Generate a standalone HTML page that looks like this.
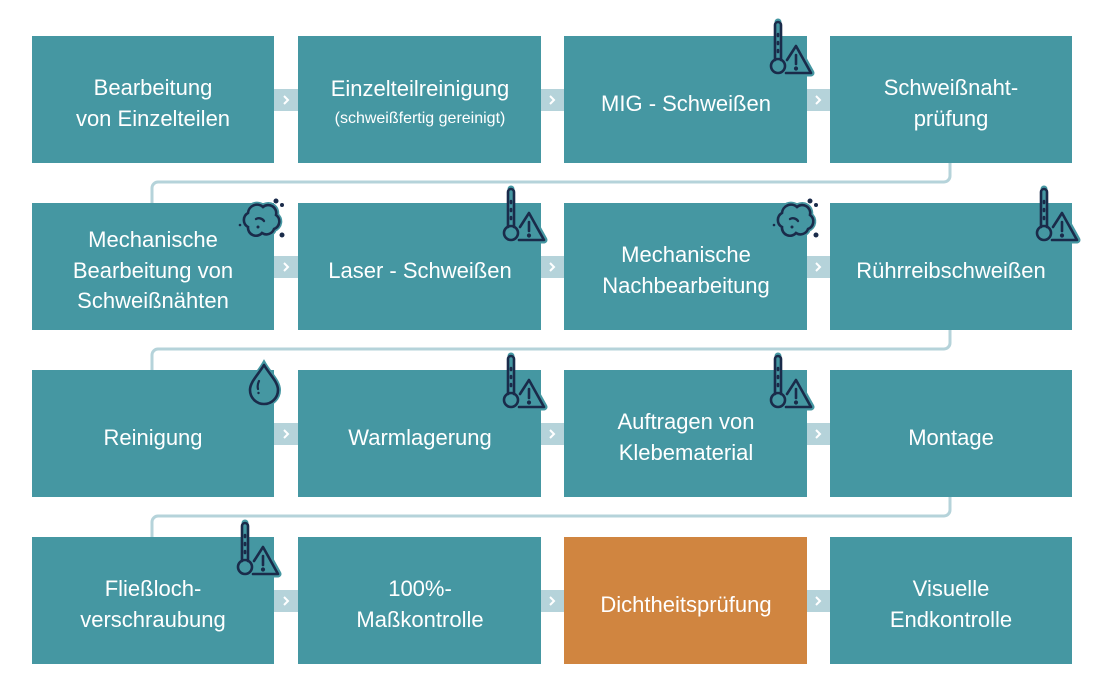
<!DOCTYPE html>
<html><head><meta charset="utf-8"><style>
body{margin:0;background:#fff;width:1110px;height:694px;overflow:hidden}
svg text{font-family:"Liberation Sans",sans-serif;font-size:22px;fill:#fff;text-anchor:middle}
</style></head><body>
<svg width="1110" height="694" viewBox="0 0 1110 694" xmlns="http://www.w3.org/2000/svg">
<defs>
<g id="therm">
 <g fill="none" stroke="#4597a2" stroke-width="7" stroke-linecap="round" stroke-linejoin="round">
  <path d="M0 -36 V0"/><circle cx="0" cy="8" r="7"/><path d="M18 -12 L33 15 H4 Z"/>
 </g>
 <g fill="none" stroke="#1a2b4a" stroke-width="2.6" stroke-linecap="round" stroke-linejoin="round">
  <path d="M-3 2 V-33 a3 3 0 0 1 6 0 V2"/><circle cx="0" cy="8" r="7"/>
  <path d="M9 2 L18 -12 L33 15 H8"/><path d="M18 -3 V6"/><circle cx="18" cy="10.5" r="0.8" fill="#1a2b4a"/>
  <path d="M0 -24 v2 M0 -16 v2 M0 -8 v2"/>
 </g>
</g>
<g id="cloud">
 <path d="M-14 6 a8 8 0 0 1 0 -14 a9 9 0 0 1 15 -6 a8 8 0 0 1 13 8 a8 8 0 0 1 -2 14 a8 8 0 0 1 -12 4 a8 8 0 0 1 -14 -6 Z" fill="#4597a2" stroke="#4597a2" stroke-width="6"/>
 <path d="M-14 6 a8 8 0 0 1 0 -14 a9 9 0 0 1 15 -6 a8 8 0 0 1 13 8 a8 8 0 0 1 -2 14 a8 8 0 0 1 -12 4 a8 8 0 0 1 -14 -6 Z" fill="none" stroke="#1a2b4a" stroke-width="2.6"/>
 <path d="M-6 -2 a6 6 0 0 1 8 2" fill="none" stroke="#1a2b4a" stroke-width="2.4" stroke-linecap="round"/>
 <circle cx="-4" cy="6" r="1.5" fill="#1a2b4a"/>
 <circle cx="14" cy="-20" r="2.5" fill="#1a2b4a"/><circle cx="20" cy="-16" r="2" fill="#1a2b4a"/><circle cx="20" cy="14" r="2.5" fill="#1a2b4a"/><circle cx="-22" cy="4" r="1.3" fill="#1a2b4a"/>
</g>
</defs>
<g fill="none" stroke="#b5d3da" stroke-width="3">
 <path d="M950 163 V176 a6 6 0 0 1 -6 6 H158 a6 6 0 0 0 -6 6 V203"/>
 <path d="M950 330 V343 a6 6 0 0 1 -6 6 H158 a6 6 0 0 0 -6 6 V370"/>
 <path d="M950 497 V510 a6 6 0 0 1 -6 6 H158 a6 6 0 0 0 -6 6 V537"/>
</g>
<g fill="#b5d3da">
 <rect x="274" y="89" width="24" height="22"/><rect x="541" y="89" width="23" height="22"/><rect x="807" y="89" width="23" height="22"/>
 <rect x="274" y="256" width="24" height="22"/><rect x="541" y="256" width="23" height="22"/><rect x="807" y="256" width="23" height="22"/>
 <rect x="274" y="423" width="24" height="22"/><rect x="541" y="423" width="23" height="22"/><rect x="807" y="423" width="23" height="22"/>
 <rect x="274" y="590" width="24" height="22"/><rect x="541" y="590" width="23" height="22"/><rect x="807" y="590" width="23" height="22"/>
</g>
<g fill="none" stroke="#fff" stroke-width="2">
 <path d="M284 96 l4 4 -4 4 M550 96 l4 4 -4 4 M816 96 l4 4 -4 4"/>
 <path d="M284 263 l4 4 -4 4 M550 263 l4 4 -4 4 M816 263 l4 4 -4 4"/>
 <path d="M284 430 l4 4 -4 4 M550 430 l4 4 -4 4 M816 430 l4 4 -4 4"/>
 <path d="M284 597 l4 4 -4 4 M550 597 l4 4 -4 4 M816 597 l4 4 -4 4"/>
</g>
<g fill="#4597a2">
 <rect x="32" y="36" width="242" height="127"/><rect x="298" y="36" width="243" height="127"/><rect x="564" y="36" width="243" height="127"/><rect x="830" y="36" width="242" height="127"/>
 <rect x="32" y="203" width="242" height="127"/><rect x="298" y="203" width="243" height="127"/><rect x="564" y="203" width="243" height="127"/><rect x="830" y="203" width="242" height="127"/>
 <rect x="32" y="370" width="242" height="127"/><rect x="298" y="370" width="243" height="127"/><rect x="564" y="370" width="243" height="127"/><rect x="830" y="370" width="242" height="127"/>
 <rect x="32" y="537" width="242" height="127"/><rect x="298" y="537" width="243" height="127"/><rect x="830" y="537" width="242" height="127"/>
</g>
<rect x="564" y="537" width="243" height="127" fill="#d08540"/>
<use href="#therm" x="778" y="58"/>
<use href="#therm" x="511" y="225"/>
<use href="#therm" x="1044" y="225"/>
<use href="#therm" x="511" y="392"/>
<use href="#therm" x="778" y="392"/>
<use href="#therm" x="245" y="559"/>
<use href="#cloud" x="262" y="221"/>
<use href="#cloud" x="796" y="221"/>
<g>
 <path d="M264 365 C258 375 250 382 250 390 a14 14 0 0 0 28 0 C278 382 270 375 264 365 Z" fill="#4597a2" stroke="#4597a2" stroke-width="6"/>
 <path d="M264 365 C258 375 250 382 250 390 a14 14 0 0 0 28 0 C278 382 270 375 264 365 Z" fill="none" stroke="#1a2b4a" stroke-width="2.6" stroke-linejoin="round"/>
 <path d="M259 381 q-2 4 -1 8" fill="none" stroke="#1a2b4a" stroke-width="2.2" stroke-linecap="round"/>
 <circle cx="258.5" cy="393" r="1.2" fill="#1a2b4a"/>
</g>
<text x="153" y="95">Bearbeitung</text><text x="153" y="126">von Einzelteilen</text>
<text x="420" y="96">Einzelteilreinigung</text><text x="420" y="123" style="font-size:16px">(schweißfertig gereinigt)</text>
<text x="686" y="111">MIG - Schweißen</text>
<text x="951" y="95">Schweißnaht-</text><text x="951" y="126">prüfung</text>
<text x="153" y="247">Mechanische</text><text x="153" y="278">Bearbeitung von</text><text x="153" y="308">Schweißnähten</text>
<text x="420" y="278">Laser - Schweißen</text>
<text x="686" y="262">Mechanische</text><text x="686" y="293">Nachbearbeitung</text>
<text x="951" y="278">Rührreibschweißen</text>
<text x="153" y="445">Reinigung</text>
<text x="420" y="445">Warmlagerung</text>
<text x="686" y="429">Auftragen von</text><text x="686" y="460">Klebematerial</text>
<text x="951" y="445">Montage</text>
<text x="153" y="596">Fließloch-</text><text x="153" y="627">verschraubung</text>
<text x="420" y="596">100%-</text><text x="420" y="627">Maßkontrolle</text>
<text x="686" y="612">Dichtheitsprüfung</text>
<text x="951" y="596">Visuelle</text><text x="951" y="627">Endkontrolle</text>
</svg>
</body></html>
